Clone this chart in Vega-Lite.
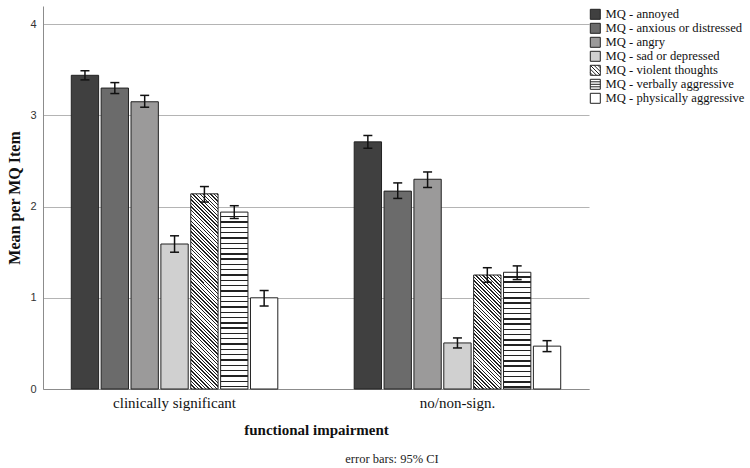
{
"$schema": "https://vega.github.io/schema/vega-lite/v6.json",
"width": 546,
"height": 383,
"autosize": {"type": "none"},
"padding": {"left": 43, "top": 6, "right": 161, "bottom": 79},
"background": "white",
"config": {"view": {"stroke": null}, "font": "Liberation Serif"},
"title": {"text": "error bars: 95% CI", "orient": "bottom", "anchor": "middle", "frame": "group", "dx": 76, "offset": 16, "font": "Liberation Serif", "fontSize": 12.5, "fontWeight": "normal", "color": "#222"},
"data": {"values": [
{"group": "clinically significant", "item": "MQ - annoyed", "mean": 3.44, "lo": 3.39, "hi": 3.49},
{"group": "clinically significant", "item": "MQ - anxious or distressed", "mean": 3.30, "lo": 3.24, "hi": 3.36},
{"group": "clinically significant", "item": "MQ - angry", "mean": 3.15, "lo": 3.09, "hi": 3.22},
{"group": "clinically significant", "item": "MQ - sad or depressed", "mean": 1.59, "lo": 1.50, "hi": 1.68},
{"group": "clinically significant", "item": "MQ - violent thoughts", "mean": 2.14, "lo": 2.05, "hi": 2.22},
{"group": "clinically significant", "item": "MQ - verbally aggressive", "mean": 1.94, "lo": 1.87, "hi": 2.01},
{"group": "clinically significant", "item": "MQ - physically aggressive", "mean": 1.00, "lo": 0.91, "hi": 1.08},
{"group": "no/non-sign.", "item": "MQ - annoyed", "mean": 2.71, "lo": 2.64, "hi": 2.78},
{"group": "no/non-sign.", "item": "MQ - anxious or distressed", "mean": 2.17, "lo": 2.09, "hi": 2.26},
{"group": "no/non-sign.", "item": "MQ - angry", "mean": 2.30, "lo": 2.21, "hi": 2.38},
{"group": "no/non-sign.", "item": "MQ - sad or depressed", "mean": 0.505, "lo": 0.45, "hi": 0.56},
{"group": "no/non-sign.", "item": "MQ - violent thoughts", "mean": 1.25, "lo": 1.17, "hi": 1.33},
{"group": "no/non-sign.", "item": "MQ - verbally aggressive", "mean": 1.28, "lo": 1.20, "hi": 1.35},
{"group": "no/non-sign.", "item": "MQ - physically aggressive", "mean": 0.47, "lo": 0.41, "hi": 0.53}
]},
"encoding": {
"x": {"field": "group", "type": "nominal", "sort": null, "scale": {"paddingInner": 0.27, "paddingOuter": 0.1}, "title": "functional impairment",
 "axis": {"ticks": false, "domainColor": "#8c8c8c", "domainWidth": 1, "labelFont": "Liberation Serif", "labelFontSize": 15, "labelColor": "#111", "labelAngle": 0, "labelPadding": 6, "titleFont": "Liberation Serif", "titleFontSize": 15, "titleFontWeight": "bold", "titleColor": "#111", "titlePadding": 12}},
"xOffset": {"field": "item", "type": "nominal", "sort": null, "scale": {"paddingInner": 0.085, "paddingOuter": 0}}
},
"layer": [
{"mark": {"type": "bar", "stroke": "#222", "strokeWidth": 1},
 "encoding": {
 "y": {"field": "mean", "type": "quantitative", "scale": {"domain": [0, 4.2], "nice": false, "zero": true}, "title": "Mean per MQ Item",
  "axis": {"values": [0, 1, 2, 3, 4], "format": "d", "grid": true, "gridColor": "#b4b4b4", "gridWidth": 1, "domainColor": "#8c8c8c", "domainWidth": 1, "ticks": false, "labelFont": "Liberation Sans", "labelFontSize": 11, "labelColor": "#333", "labelPadding": 7, "titleFont": "Liberation Serif", "titleFontSize": 16, "titleFontWeight": "bold", "titleColor": "#111", "titlePadding": 7}},
 "fill": {"field": "item", "type": "nominal", "sort": null,
  "scale": {"domain": ["MQ - annoyed", "MQ - anxious or distressed", "MQ - angry", "MQ - sad or depressed", "MQ - violent thoughts", "MQ - verbally aggressive", "MQ - physically aggressive"],
   "range": ["#404040", "#6b6b6b", "#9b9a9a", "#d0d0d0", "#ffffff", "#ffffff", "#ffffff"]},
  "legend": {"title": null, "orient": "none", "legendX": 546, "legendY": 2, "padding": 0, "symbolSize": 100, "symbolStrokeColor": "#222", "symbolStrokeWidth": 1, "symbolOpacity": 1, "labelFont": "Liberation Serif", "labelFontSize": 12.6, "labelColor": "#111", "labelOffset": 4, "rowPadding": -1.3,
    "encode": {"symbols": {"update": {"stroke": {"value": "#222"}, "strokeWidth": {"value": 1}, "opacity": {"value": 1}}}}},
  "condition": [
   {"test": "datum.group === 'clinically significant' && datum.item === 'MQ - violent thoughts'",
    "value": {"gradient": "linear", "x1": 1, "y1": 0, "x2": 0.8434, "y2": 1.1181, "stops": [
{"offset":0,"color":"#222"},{"offset":0.006,"color":"#222"},{"offset":0.006,"color":"#fff"},{"offset":0.016,"color":"#fff"},
{"offset":0.016,"color":"#222"},{"offset":0.022,"color":"#222"},{"offset":0.022,"color":"#fff"},{"offset":0.032,"color":"#fff"},
{"offset":0.032,"color":"#222"},{"offset":0.038,"color":"#222"},{"offset":0.038,"color":"#fff"},{"offset":0.048,"color":"#fff"},
{"offset":0.048,"color":"#222"},{"offset":0.054,"color":"#222"},{"offset":0.054,"color":"#fff"},{"offset":0.064,"color":"#fff"},
{"offset":0.064,"color":"#222"},{"offset":0.07,"color":"#222"},{"offset":0.07,"color":"#fff"},{"offset":0.08,"color":"#fff"},
{"offset":0.08,"color":"#222"},{"offset":0.086,"color":"#222"},{"offset":0.086,"color":"#fff"},{"offset":0.096,"color":"#fff"},
{"offset":0.096,"color":"#222"},{"offset":0.102,"color":"#222"},{"offset":0.102,"color":"#fff"},{"offset":0.112,"color":"#fff"},
{"offset":0.112,"color":"#222"},{"offset":0.118,"color":"#222"},{"offset":0.118,"color":"#fff"},{"offset":0.128,"color":"#fff"},
{"offset":0.128,"color":"#222"},{"offset":0.134,"color":"#222"},{"offset":0.134,"color":"#fff"},{"offset":0.144,"color":"#fff"},
{"offset":0.144,"color":"#222"},{"offset":0.15,"color":"#222"},{"offset":0.15,"color":"#fff"},{"offset":0.16,"color":"#fff"},
{"offset":0.16,"color":"#222"},{"offset":0.166,"color":"#222"},{"offset":0.166,"color":"#fff"},{"offset":0.176,"color":"#fff"},
{"offset":0.176,"color":"#222"},{"offset":0.182,"color":"#222"},{"offset":0.182,"color":"#fff"},{"offset":0.192,"color":"#fff"},
{"offset":0.192,"color":"#222"},{"offset":0.198,"color":"#222"},{"offset":0.198,"color":"#fff"},{"offset":0.208,"color":"#fff"},
{"offset":0.208,"color":"#222"},{"offset":0.214,"color":"#222"},{"offset":0.214,"color":"#fff"},{"offset":0.224,"color":"#fff"},
{"offset":0.224,"color":"#222"},{"offset":0.23,"color":"#222"},{"offset":0.23,"color":"#fff"},{"offset":0.24,"color":"#fff"},
{"offset":0.24,"color":"#222"},{"offset":0.246,"color":"#222"},{"offset":0.246,"color":"#fff"},{"offset":0.256,"color":"#fff"},
{"offset":0.256,"color":"#222"},{"offset":0.262,"color":"#222"},{"offset":0.262,"color":"#fff"},{"offset":0.272,"color":"#fff"},
{"offset":0.272,"color":"#222"},{"offset":0.278,"color":"#222"},{"offset":0.278,"color":"#fff"},{"offset":0.288,"color":"#fff"},
{"offset":0.288,"color":"#222"},{"offset":0.294,"color":"#222"},{"offset":0.294,"color":"#fff"},{"offset":0.304,"color":"#fff"},
{"offset":0.304,"color":"#222"},{"offset":0.31,"color":"#222"},{"offset":0.31,"color":"#fff"},{"offset":0.32,"color":"#fff"},
{"offset":0.32,"color":"#222"},{"offset":0.326,"color":"#222"},{"offset":0.326,"color":"#fff"},{"offset":0.336,"color":"#fff"},
{"offset":0.336,"color":"#222"},{"offset":0.342,"color":"#222"},{"offset":0.342,"color":"#fff"},{"offset":0.352,"color":"#fff"},
{"offset":0.352,"color":"#222"},{"offset":0.358,"color":"#222"},{"offset":0.358,"color":"#fff"},{"offset":0.368,"color":"#fff"},
{"offset":0.368,"color":"#222"},{"offset":0.374,"color":"#222"},{"offset":0.374,"color":"#fff"},{"offset":0.384,"color":"#fff"},
{"offset":0.384,"color":"#222"},{"offset":0.39,"color":"#222"},{"offset":0.39,"color":"#fff"},{"offset":0.4,"color":"#fff"},
{"offset":0.4,"color":"#222"},{"offset":0.406,"color":"#222"},{"offset":0.406,"color":"#fff"},{"offset":0.416,"color":"#fff"},
{"offset":0.416,"color":"#222"},{"offset":0.422,"color":"#222"},{"offset":0.422,"color":"#fff"},{"offset":0.432,"color":"#fff"},
{"offset":0.432,"color":"#222"},{"offset":0.438,"color":"#222"},{"offset":0.438,"color":"#fff"},{"offset":0.448,"color":"#fff"},
{"offset":0.448,"color":"#222"},{"offset":0.454,"color":"#222"},{"offset":0.454,"color":"#fff"},{"offset":0.464,"color":"#fff"},
{"offset":0.464,"color":"#222"},{"offset":0.47,"color":"#222"},{"offset":0.47,"color":"#fff"},{"offset":0.48,"color":"#fff"},
{"offset":0.48,"color":"#222"},{"offset":0.486,"color":"#222"},{"offset":0.486,"color":"#fff"},{"offset":0.496,"color":"#fff"},
{"offset":0.496,"color":"#222"},{"offset":0.502,"color":"#222"},{"offset":0.502,"color":"#fff"},{"offset":0.512,"color":"#fff"},
{"offset":0.512,"color":"#222"},{"offset":0.518,"color":"#222"},{"offset":0.518,"color":"#fff"},{"offset":0.528,"color":"#fff"},
{"offset":0.528,"color":"#222"},{"offset":0.534,"color":"#222"},{"offset":0.534,"color":"#fff"},{"offset":0.544,"color":"#fff"},
{"offset":0.544,"color":"#222"},{"offset":0.55,"color":"#222"},{"offset":0.55,"color":"#fff"},{"offset":0.56,"color":"#fff"},
{"offset":0.56,"color":"#222"},{"offset":0.566,"color":"#222"},{"offset":0.566,"color":"#fff"},{"offset":0.576,"color":"#fff"},
{"offset":0.576,"color":"#222"},{"offset":0.582,"color":"#222"},{"offset":0.582,"color":"#fff"},{"offset":0.592,"color":"#fff"},
{"offset":0.592,"color":"#222"},{"offset":0.598,"color":"#222"},{"offset":0.598,"color":"#fff"},{"offset":0.608,"color":"#fff"},
{"offset":0.608,"color":"#222"},{"offset":0.614,"color":"#222"},{"offset":0.614,"color":"#fff"},{"offset":0.624,"color":"#fff"},
{"offset":0.624,"color":"#222"},{"offset":0.63,"color":"#222"},{"offset":0.63,"color":"#fff"},{"offset":0.64,"color":"#fff"},
{"offset":0.64,"color":"#222"},{"offset":0.646,"color":"#222"},{"offset":0.646,"color":"#fff"},{"offset":0.656,"color":"#fff"},
{"offset":0.656,"color":"#222"},{"offset":0.662,"color":"#222"},{"offset":0.662,"color":"#fff"},{"offset":0.672,"color":"#fff"},
{"offset":0.672,"color":"#222"},{"offset":0.678,"color":"#222"},{"offset":0.678,"color":"#fff"},{"offset":0.688,"color":"#fff"},
{"offset":0.688,"color":"#222"},{"offset":0.694,"color":"#222"},{"offset":0.694,"color":"#fff"},{"offset":0.704,"color":"#fff"},
{"offset":0.704,"color":"#222"},{"offset":0.71,"color":"#222"},{"offset":0.71,"color":"#fff"},{"offset":0.72,"color":"#fff"},
{"offset":0.72,"color":"#222"},{"offset":0.726,"color":"#222"},{"offset":0.726,"color":"#fff"},{"offset":0.736,"color":"#fff"},
{"offset":0.736,"color":"#222"},{"offset":0.742,"color":"#222"},{"offset":0.742,"color":"#fff"},{"offset":0.752,"color":"#fff"},
{"offset":0.752,"color":"#222"},{"offset":0.758,"color":"#222"},{"offset":0.758,"color":"#fff"},{"offset":0.768,"color":"#fff"},
{"offset":0.768,"color":"#222"},{"offset":0.774,"color":"#222"},{"offset":0.774,"color":"#fff"},{"offset":0.784,"color":"#fff"},
{"offset":0.784,"color":"#222"},{"offset":0.79,"color":"#222"},{"offset":0.79,"color":"#fff"},{"offset":0.8,"color":"#fff"},
{"offset":0.8,"color":"#222"},{"offset":0.806,"color":"#222"},{"offset":0.806,"color":"#fff"},{"offset":0.816,"color":"#fff"},
{"offset":0.816,"color":"#222"},{"offset":0.822,"color":"#222"},{"offset":0.822,"color":"#fff"},{"offset":0.832,"color":"#fff"},
{"offset":0.832,"color":"#222"},{"offset":0.838,"color":"#222"},{"offset":0.838,"color":"#fff"},{"offset":0.848,"color":"#fff"},
{"offset":0.848,"color":"#222"},{"offset":0.854,"color":"#222"},{"offset":0.854,"color":"#fff"},{"offset":0.864,"color":"#fff"},
{"offset":0.864,"color":"#222"},{"offset":0.87,"color":"#222"},{"offset":0.87,"color":"#fff"},{"offset":0.88,"color":"#fff"},
{"offset":0.88,"color":"#222"},{"offset":0.886,"color":"#222"},{"offset":0.886,"color":"#fff"},{"offset":0.896,"color":"#fff"},
{"offset":0.896,"color":"#222"},{"offset":0.902,"color":"#222"},{"offset":0.902,"color":"#fff"},{"offset":0.912,"color":"#fff"},
{"offset":0.912,"color":"#222"},{"offset":0.918,"color":"#222"},{"offset":0.918,"color":"#fff"},{"offset":0.928,"color":"#fff"},
{"offset":0.928,"color":"#222"},{"offset":0.934,"color":"#222"},{"offset":0.934,"color":"#fff"},{"offset":0.944,"color":"#fff"},
{"offset":0.944,"color":"#222"},{"offset":0.95,"color":"#222"},{"offset":0.95,"color":"#fff"},{"offset":0.96,"color":"#fff"},
{"offset":0.96,"color":"#222"},{"offset":0.966,"color":"#222"},{"offset":0.966,"color":"#fff"},{"offset":0.976,"color":"#fff"},
{"offset":0.976,"color":"#222"},{"offset":0.982,"color":"#222"},{"offset":0.982,"color":"#fff"},{"offset":0.992,"color":"#fff"},
{"offset":0.992,"color":"#222"},{"offset":0.998,"color":"#222"},{"offset":0.998,"color":"#fff"},{"offset":1,"color":"#fff"}]}},
   {"test": "datum.group === 'no/non-sign.' && datum.item === 'MQ - violent thoughts'",
    "value": {"gradient": "linear", "x1": 1, "y1": 0, "x2": 0.719, "y2": 1.1724, "stops": [
{"offset":0,"color":"#222"},{"offset":0.01,"color":"#222"},{"offset":0.01,"color":"#fff"},{"offset":0.025,"color":"#fff"},
{"offset":0.025,"color":"#222"},{"offset":0.035,"color":"#222"},{"offset":0.035,"color":"#fff"},{"offset":0.05,"color":"#fff"},
{"offset":0.05,"color":"#222"},{"offset":0.06,"color":"#222"},{"offset":0.06,"color":"#fff"},{"offset":0.075,"color":"#fff"},
{"offset":0.075,"color":"#222"},{"offset":0.085,"color":"#222"},{"offset":0.085,"color":"#fff"},{"offset":0.1,"color":"#fff"},
{"offset":0.1,"color":"#222"},{"offset":0.11,"color":"#222"},{"offset":0.11,"color":"#fff"},{"offset":0.125,"color":"#fff"},
{"offset":0.125,"color":"#222"},{"offset":0.135,"color":"#222"},{"offset":0.135,"color":"#fff"},{"offset":0.15,"color":"#fff"},
{"offset":0.15,"color":"#222"},{"offset":0.16,"color":"#222"},{"offset":0.16,"color":"#fff"},{"offset":0.175,"color":"#fff"},
{"offset":0.175,"color":"#222"},{"offset":0.185,"color":"#222"},{"offset":0.185,"color":"#fff"},{"offset":0.2,"color":"#fff"},
{"offset":0.2,"color":"#222"},{"offset":0.21,"color":"#222"},{"offset":0.21,"color":"#fff"},{"offset":0.225,"color":"#fff"},
{"offset":0.225,"color":"#222"},{"offset":0.235,"color":"#222"},{"offset":0.235,"color":"#fff"},{"offset":0.25,"color":"#fff"},
{"offset":0.25,"color":"#222"},{"offset":0.26,"color":"#222"},{"offset":0.26,"color":"#fff"},{"offset":0.275,"color":"#fff"},
{"offset":0.275,"color":"#222"},{"offset":0.285,"color":"#222"},{"offset":0.285,"color":"#fff"},{"offset":0.3,"color":"#fff"},
{"offset":0.3,"color":"#222"},{"offset":0.31,"color":"#222"},{"offset":0.31,"color":"#fff"},{"offset":0.325,"color":"#fff"},
{"offset":0.325,"color":"#222"},{"offset":0.335,"color":"#222"},{"offset":0.335,"color":"#fff"},{"offset":0.35,"color":"#fff"},
{"offset":0.35,"color":"#222"},{"offset":0.36,"color":"#222"},{"offset":0.36,"color":"#fff"},{"offset":0.375,"color":"#fff"},
{"offset":0.375,"color":"#222"},{"offset":0.385,"color":"#222"},{"offset":0.385,"color":"#fff"},{"offset":0.4,"color":"#fff"},
{"offset":0.4,"color":"#222"},{"offset":0.41,"color":"#222"},{"offset":0.41,"color":"#fff"},{"offset":0.425,"color":"#fff"},
{"offset":0.425,"color":"#222"},{"offset":0.435,"color":"#222"},{"offset":0.435,"color":"#fff"},{"offset":0.45,"color":"#fff"},
{"offset":0.45,"color":"#222"},{"offset":0.46,"color":"#222"},{"offset":0.46,"color":"#fff"},{"offset":0.475,"color":"#fff"},
{"offset":0.475,"color":"#222"},{"offset":0.485,"color":"#222"},{"offset":0.485,"color":"#fff"},{"offset":0.5,"color":"#fff"},
{"offset":0.5,"color":"#222"},{"offset":0.51,"color":"#222"},{"offset":0.51,"color":"#fff"},{"offset":0.525,"color":"#fff"},
{"offset":0.525,"color":"#222"},{"offset":0.535,"color":"#222"},{"offset":0.535,"color":"#fff"},{"offset":0.55,"color":"#fff"},
{"offset":0.55,"color":"#222"},{"offset":0.56,"color":"#222"},{"offset":0.56,"color":"#fff"},{"offset":0.575,"color":"#fff"},
{"offset":0.575,"color":"#222"},{"offset":0.585,"color":"#222"},{"offset":0.585,"color":"#fff"},{"offset":0.6,"color":"#fff"},
{"offset":0.6,"color":"#222"},{"offset":0.61,"color":"#222"},{"offset":0.61,"color":"#fff"},{"offset":0.625,"color":"#fff"},
{"offset":0.625,"color":"#222"},{"offset":0.635,"color":"#222"},{"offset":0.635,"color":"#fff"},{"offset":0.65,"color":"#fff"},
{"offset":0.65,"color":"#222"},{"offset":0.66,"color":"#222"},{"offset":0.66,"color":"#fff"},{"offset":0.675,"color":"#fff"},
{"offset":0.675,"color":"#222"},{"offset":0.685,"color":"#222"},{"offset":0.685,"color":"#fff"},{"offset":0.7,"color":"#fff"},
{"offset":0.7,"color":"#222"},{"offset":0.71,"color":"#222"},{"offset":0.71,"color":"#fff"},{"offset":0.725,"color":"#fff"},
{"offset":0.725,"color":"#222"},{"offset":0.735,"color":"#222"},{"offset":0.735,"color":"#fff"},{"offset":0.75,"color":"#fff"},
{"offset":0.75,"color":"#222"},{"offset":0.76,"color":"#222"},{"offset":0.76,"color":"#fff"},{"offset":0.775,"color":"#fff"},
{"offset":0.775,"color":"#222"},{"offset":0.785,"color":"#222"},{"offset":0.785,"color":"#fff"},{"offset":0.8,"color":"#fff"},
{"offset":0.8,"color":"#222"},{"offset":0.81,"color":"#222"},{"offset":0.81,"color":"#fff"},{"offset":0.825,"color":"#fff"},
{"offset":0.825,"color":"#222"},{"offset":0.835,"color":"#222"},{"offset":0.835,"color":"#fff"},{"offset":0.85,"color":"#fff"},
{"offset":0.85,"color":"#222"},{"offset":0.86,"color":"#222"},{"offset":0.86,"color":"#fff"},{"offset":0.875,"color":"#fff"},
{"offset":0.875,"color":"#222"},{"offset":0.885,"color":"#222"},{"offset":0.885,"color":"#fff"},{"offset":0.9,"color":"#fff"},
{"offset":0.9,"color":"#222"},{"offset":0.91,"color":"#222"},{"offset":0.91,"color":"#fff"},{"offset":0.925,"color":"#fff"},
{"offset":0.925,"color":"#222"},{"offset":0.935,"color":"#222"},{"offset":0.935,"color":"#fff"},{"offset":0.95,"color":"#fff"},
{"offset":0.95,"color":"#222"},{"offset":0.96,"color":"#222"},{"offset":0.96,"color":"#fff"},{"offset":0.975,"color":"#fff"},
{"offset":0.975,"color":"#222"},{"offset":0.985,"color":"#222"},{"offset":0.985,"color":"#fff"},{"offset":1,"color":"#fff"}]}},
   {"test": "datum.group === 'clinically significant' && datum.item === 'MQ - verbally aggressive'",
    "value": {"gradient": "linear", "x1": 0, "y1": 0, "x2": 0, "y2": 1, "stops": [
{"offset":0,"color":"#fff"},{"offset":0.022,"color":"#fff"},{"offset":0.022,"color":"#222"},{"offset":0.03,"color":"#222"},
{"offset":0.03,"color":"#fff"},{"offset":0.052,"color":"#fff"},{"offset":0.052,"color":"#222"},{"offset":0.06,"color":"#222"},
{"offset":0.06,"color":"#fff"},{"offset":0.082,"color":"#fff"},{"offset":0.082,"color":"#222"},{"offset":0.09,"color":"#222"},
{"offset":0.09,"color":"#fff"},{"offset":0.112,"color":"#fff"},{"offset":0.112,"color":"#222"},{"offset":0.12,"color":"#222"},
{"offset":0.12,"color":"#fff"},{"offset":0.142,"color":"#fff"},{"offset":0.142,"color":"#222"},{"offset":0.15,"color":"#222"},
{"offset":0.15,"color":"#fff"},{"offset":0.172,"color":"#fff"},{"offset":0.172,"color":"#222"},{"offset":0.18,"color":"#222"},
{"offset":0.18,"color":"#fff"},{"offset":0.202,"color":"#fff"},{"offset":0.202,"color":"#222"},{"offset":0.21,"color":"#222"},
{"offset":0.21,"color":"#fff"},{"offset":0.232,"color":"#fff"},{"offset":0.232,"color":"#222"},{"offset":0.24,"color":"#222"},
{"offset":0.24,"color":"#fff"},{"offset":0.262,"color":"#fff"},{"offset":0.262,"color":"#222"},{"offset":0.27,"color":"#222"},
{"offset":0.27,"color":"#fff"},{"offset":0.292,"color":"#fff"},{"offset":0.292,"color":"#222"},{"offset":0.3,"color":"#222"},
{"offset":0.3,"color":"#fff"},{"offset":0.322,"color":"#fff"},{"offset":0.322,"color":"#222"},{"offset":0.33,"color":"#222"},
{"offset":0.33,"color":"#fff"},{"offset":0.352,"color":"#fff"},{"offset":0.352,"color":"#222"},{"offset":0.36,"color":"#222"},
{"offset":0.36,"color":"#fff"},{"offset":0.382,"color":"#fff"},{"offset":0.382,"color":"#222"},{"offset":0.39,"color":"#222"},
{"offset":0.39,"color":"#fff"},{"offset":0.412,"color":"#fff"},{"offset":0.412,"color":"#222"},{"offset":0.42,"color":"#222"},
{"offset":0.42,"color":"#fff"},{"offset":0.442,"color":"#fff"},{"offset":0.442,"color":"#222"},{"offset":0.45,"color":"#222"},
{"offset":0.45,"color":"#fff"},{"offset":0.472,"color":"#fff"},{"offset":0.472,"color":"#222"},{"offset":0.48,"color":"#222"},
{"offset":0.48,"color":"#fff"},{"offset":0.502,"color":"#fff"},{"offset":0.502,"color":"#222"},{"offset":0.51,"color":"#222"},
{"offset":0.51,"color":"#fff"},{"offset":0.532,"color":"#fff"},{"offset":0.532,"color":"#222"},{"offset":0.54,"color":"#222"},
{"offset":0.54,"color":"#fff"},{"offset":0.562,"color":"#fff"},{"offset":0.562,"color":"#222"},{"offset":0.57,"color":"#222"},
{"offset":0.57,"color":"#fff"},{"offset":0.592,"color":"#fff"},{"offset":0.592,"color":"#222"},{"offset":0.6,"color":"#222"},
{"offset":0.6,"color":"#fff"},{"offset":0.622,"color":"#fff"},{"offset":0.622,"color":"#222"},{"offset":0.63,"color":"#222"},
{"offset":0.63,"color":"#fff"},{"offset":0.652,"color":"#fff"},{"offset":0.652,"color":"#222"},{"offset":0.66,"color":"#222"},
{"offset":0.66,"color":"#fff"},{"offset":0.682,"color":"#fff"},{"offset":0.682,"color":"#222"},{"offset":0.69,"color":"#222"},
{"offset":0.69,"color":"#fff"},{"offset":0.712,"color":"#fff"},{"offset":0.712,"color":"#222"},{"offset":0.72,"color":"#222"},
{"offset":0.72,"color":"#fff"},{"offset":0.742,"color":"#fff"},{"offset":0.742,"color":"#222"},{"offset":0.75,"color":"#222"},
{"offset":0.75,"color":"#fff"},{"offset":0.772,"color":"#fff"},{"offset":0.772,"color":"#222"},{"offset":0.78,"color":"#222"},
{"offset":0.78,"color":"#fff"},{"offset":0.802,"color":"#fff"},{"offset":0.802,"color":"#222"},{"offset":0.81,"color":"#222"},
{"offset":0.81,"color":"#fff"},{"offset":0.832,"color":"#fff"},{"offset":0.832,"color":"#222"},{"offset":0.84,"color":"#222"},
{"offset":0.84,"color":"#fff"},{"offset":0.862,"color":"#fff"},{"offset":0.862,"color":"#222"},{"offset":0.87,"color":"#222"},
{"offset":0.87,"color":"#fff"},{"offset":0.892,"color":"#fff"},{"offset":0.892,"color":"#222"},{"offset":0.9,"color":"#222"},
{"offset":0.9,"color":"#fff"},{"offset":0.922,"color":"#fff"},{"offset":0.922,"color":"#222"},{"offset":0.93,"color":"#222"},
{"offset":0.93,"color":"#fff"},{"offset":0.952,"color":"#fff"},{"offset":0.952,"color":"#222"},{"offset":0.96,"color":"#222"},
{"offset":0.96,"color":"#fff"},{"offset":0.982,"color":"#fff"},{"offset":0.982,"color":"#222"},{"offset":0.99,"color":"#222"},
{"offset":0.99,"color":"#fff"},{"offset":1,"color":"#fff"}]}},
   {"test": "datum.group === 'no/non-sign.' && datum.item === 'MQ - verbally aggressive'",
    "value": {"gradient": "linear", "x1": 0, "y1": 0, "x2": 0, "y2": 1, "stops": [
{"offset":0,"color":"#fff"},{"offset":0.033,"color":"#fff"},{"offset":0.033,"color":"#222"},{"offset":0.045,"color":"#222"},
{"offset":0.045,"color":"#fff"},{"offset":0.078,"color":"#fff"},{"offset":0.078,"color":"#222"},{"offset":0.09,"color":"#222"},
{"offset":0.09,"color":"#fff"},{"offset":0.123,"color":"#fff"},{"offset":0.123,"color":"#222"},{"offset":0.135,"color":"#222"},
{"offset":0.135,"color":"#fff"},{"offset":0.168,"color":"#fff"},{"offset":0.168,"color":"#222"},{"offset":0.18,"color":"#222"},
{"offset":0.18,"color":"#fff"},{"offset":0.213,"color":"#fff"},{"offset":0.213,"color":"#222"},{"offset":0.225,"color":"#222"},
{"offset":0.225,"color":"#fff"},{"offset":0.258,"color":"#fff"},{"offset":0.258,"color":"#222"},{"offset":0.27,"color":"#222"},
{"offset":0.27,"color":"#fff"},{"offset":0.303,"color":"#fff"},{"offset":0.303,"color":"#222"},{"offset":0.315,"color":"#222"},
{"offset":0.315,"color":"#fff"},{"offset":0.348,"color":"#fff"},{"offset":0.348,"color":"#222"},{"offset":0.36,"color":"#222"},
{"offset":0.36,"color":"#fff"},{"offset":0.393,"color":"#fff"},{"offset":0.393,"color":"#222"},{"offset":0.405,"color":"#222"},
{"offset":0.405,"color":"#fff"},{"offset":0.438,"color":"#fff"},{"offset":0.438,"color":"#222"},{"offset":0.45,"color":"#222"},
{"offset":0.45,"color":"#fff"},{"offset":0.483,"color":"#fff"},{"offset":0.483,"color":"#222"},{"offset":0.495,"color":"#222"},
{"offset":0.495,"color":"#fff"},{"offset":0.528,"color":"#fff"},{"offset":0.528,"color":"#222"},{"offset":0.54,"color":"#222"},
{"offset":0.54,"color":"#fff"},{"offset":0.573,"color":"#fff"},{"offset":0.573,"color":"#222"},{"offset":0.585,"color":"#222"},
{"offset":0.585,"color":"#fff"},{"offset":0.618,"color":"#fff"},{"offset":0.618,"color":"#222"},{"offset":0.63,"color":"#222"},
{"offset":0.63,"color":"#fff"},{"offset":0.663,"color":"#fff"},{"offset":0.663,"color":"#222"},{"offset":0.675,"color":"#222"},
{"offset":0.675,"color":"#fff"},{"offset":0.708,"color":"#fff"},{"offset":0.708,"color":"#222"},{"offset":0.72,"color":"#222"},
{"offset":0.72,"color":"#fff"},{"offset":0.753,"color":"#fff"},{"offset":0.753,"color":"#222"},{"offset":0.765,"color":"#222"},
{"offset":0.765,"color":"#fff"},{"offset":0.798,"color":"#fff"},{"offset":0.798,"color":"#222"},{"offset":0.81,"color":"#222"},
{"offset":0.81,"color":"#fff"},{"offset":0.843,"color":"#fff"},{"offset":0.843,"color":"#222"},{"offset":0.855,"color":"#222"},
{"offset":0.855,"color":"#fff"},{"offset":0.888,"color":"#fff"},{"offset":0.888,"color":"#222"},{"offset":0.9,"color":"#222"},
{"offset":0.9,"color":"#fff"},{"offset":0.933,"color":"#fff"},{"offset":0.933,"color":"#222"},{"offset":0.945,"color":"#222"},
{"offset":0.945,"color":"#fff"},{"offset":0.978,"color":"#fff"},{"offset":0.978,"color":"#222"},{"offset":0.99,"color":"#222"},
{"offset":0.99,"color":"#fff"},{"offset":1,"color":"#fff"}]}}
  ]}
 }},
{"mark": {"type": "rule", "color": "#111", "strokeWidth": 1.5},
 "encoding": {"y": {"field": "lo", "type": "quantitative", "title": "Mean per MQ Item"}, "y2": {"field": "hi"}}},
{"mark": {"type": "tick", "color": "#111", "thickness": 1.5, "size": 9, "opacity": 1},
 "encoding": {"y": {"field": "lo", "type": "quantitative", "title": "Mean per MQ Item"}}},
{"mark": {"type": "tick", "color": "#111", "thickness": 1.5, "size": 9, "opacity": 1},
 "encoding": {"y": {"field": "hi", "type": "quantitative", "title": "Mean per MQ Item"}}},
{"transform": [{"filter": "false"}],
 "mark": {"type": "point", "filled": true, "opacity": 1, "stroke": "#222", "strokeWidth": 1},
 "encoding": {
  "y": {"field": "mean", "type": "quantitative", "title": "Mean per MQ Item"},
  "fill": {"field": "item", "type": "nominal", "sort": null},
  "shape": {"field": "item", "type": "nominal", "sort": null,
   "scale": {"domain": ["MQ - annoyed", "MQ - anxious or distressed", "MQ - angry", "MQ - sad or depressed", "MQ - violent thoughts", "MQ - verbally aggressive", "MQ - physically aggressive"],
    "range": ["square", "square", "square", "square",
     "M-1,-1H1V1H-1Z M0.5,-1L1,-0.5 M-0.25,-1L1,0.25 M-1,-1L1,1 M-1,-0.25L0.25,1 M-1,0.5L-0.5,1",
     "M-1,-1H1V1H-1Z M-1,-0.5H1 M-1,0H1 M-1,0.5H1",
     "square"]},
   "legend": {"title": null, "orient": "none", "legendX": 546, "legendY": 2, "padding": 0, "symbolSize": 100, "symbolStrokeColor": "#222", "symbolStrokeWidth": 1, "symbolOpacity": 1, "labelFont": "Liberation Serif", "labelFontSize": 12.6, "labelColor": "#111", "labelOffset": 4, "rowPadding": -1.3,
    "encode": {"symbols": {"update": {"stroke": {"value": "#222"}, "strokeWidth": {"value": 1}, "opacity": {"value": 1}}}}}}
 }}
]
}
